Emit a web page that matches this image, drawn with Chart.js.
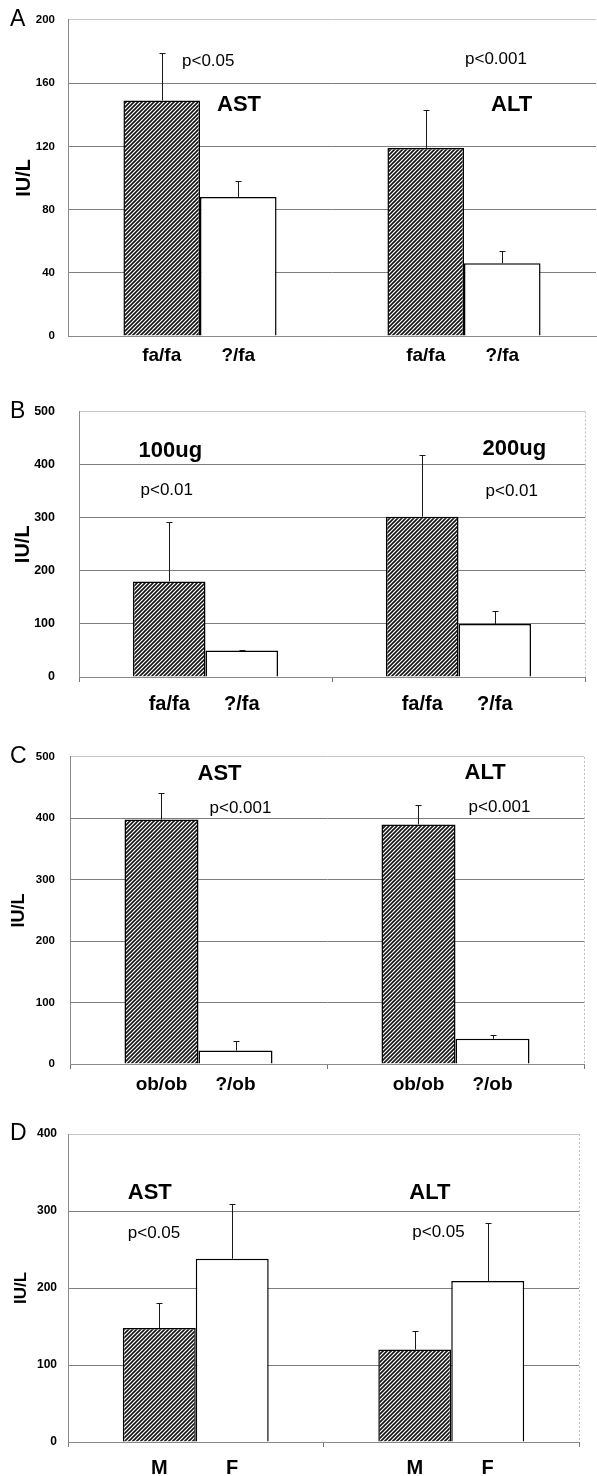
<!DOCTYPE html>
<html>
<head>
<meta charset="utf-8">
<script src="https://cdn.jsdelivr.net/npm/chart.js@4.4.1/dist/chart.umd.min.js"></script>
<style>
  body { margin: 0; background: #fff; }
  #page { position: relative; width: 597px; height: 1476px; overflow: hidden; background: #fff; }
  #page canvas { position: absolute; left: 0; }
</style>
</head>
<body>
<div id="page"></div>
<script>
// ---- data ----
const letters = ['A', 'B', 'C', 'D'];

// A: AST / ALT, fa/fa vs ?/fa
const catsA = ['AST', 'ALT'];
const barNamesA = ['fa/fa', '?/fa'];
const obeseA = [149, 119];
const obeseSdA = [30, 24];
const leanA = [88, 46];
const leanSdA = [10, 8];
const yTicksA = [0, 40, 80, 120, 160, 200];

// B: 100ug / 200ug
const catsB = ['100ug', '200ug'];
const barNamesB = ['fa/fa', '?/fa'];
const obeseB = [180, 302];
const obeseSdB = [111, 116];
const leanB = [50, 100];
const leanSdB = [1, 25];
const yTicksB = [0, 100, 200, 300, 400, 500];

// C: AST / ALT, ob/ob vs ?/ob
const catsC = ['AST', 'ALT'];
const barNamesC = ['ob/ob', '?/ob'];
const obeseC = [398, 390];
const obeseSdC = [44, 31];
const leanC = [22, 41];
const leanSdC = [16, 6];
const yTicksC = [0, 100, 200, 300, 400, 500];

// D: AST / ALT, male vs female
const catsD = ['AST', 'ALT'];
const barNamesD = ['M', 'F'];
const maleD = [148, 120];
const maleSdD = [32, 24];
const femaleD = [238, 209];
const femaleSdD = [71, 76];
const yTicksD = [0, 100, 200, 300, 400];

// in-plot notes: [text, category, px offset from category centre, y value, bold]
const notesA = [['p<0.05', 0, -18, 174, false], ['AST', 0, 17, 146, true],
                ['p<0.001', 1, 1, 175, false], ['ALT', 1, 27, 146, true]];
const notesB = [['100ug', 0, -67, 426, true], ['p<0.01', 0, -65, 351, false],
                ['200ug', 1, 24, 430, true], ['p<0.01', 1, 27, 349, false]];
const notesC = [['AST', 0, -1, 472, true], ['p<0.001', 0, 11, 417, false],
                ['ALT', 1, 9, 474, true], ['p<0.001', 1, 13, 418, false]];
const notesD = [['AST', 0, -68, 323, true], ['p<0.05', 0, -68, 271, false],
                ['ALT', 1, -42, 323, true], ['p<0.05', 1, -39, 272, false]];

const FONT = "'Liberation Sans', Arial, Helvetica, sans-serif";

function hatch() {
  const c = document.createElement('canvas');
  c.width = 4; c.height = 4;
  const g = c.getContext('2d');
  g.fillStyle = '#fff';
  g.fillRect(0, 0, 4, 4);
  g.strokeStyle = '#151515';
  g.lineWidth = 1.6;
  g.beginPath();
  g.moveTo(0, 4); g.lineTo(4, 0);
  g.moveTo(-1, 1); g.lineTo(1, -1);
  g.moveTo(3, 5); g.lineTo(5, 3);
  g.stroke();
  return g.createPattern(c, 'repeat');
}

// error bars, bar names under the bars, notes, panel letter, right frame
const extras = {
  id: 'extras',
  afterDatasetsDraw(chart, args, o) {
    const ctx = chart.ctx;
    const y = chart.scales.y;
    const a = chart.chartArea;
    ctx.save();
    if (o.frameRight) {
      ctx.strokeStyle = '#bdbdbd';
      ctx.lineWidth = 1;
      ctx.setLineDash([2, 2]);
      ctx.beginPath();
      ctx.moveTo(a.right + 0.5, a.top);
      ctx.lineTo(a.right + 0.5, a.bottom);
      ctx.stroke();
      ctx.setLineDash([]);
    }
    chart.data.datasets.forEach((ds, di) => {
      const meta = chart.getDatasetMeta(di);
      meta.data.forEach((bar, i) => {
        const y0 = y.getPixelForValue(ds.data[i]);
        const y1 = Math.round(y.getPixelForValue(ds.data[i] + ds.sd[i])) + 0.5;
        const bx = Math.round(bar.x) + 0.5;
        ctx.strokeStyle = '#1a1a1a';
        ctx.lineWidth = 1;
        ctx.beginPath();
        ctx.moveTo(bx, y0);
        ctx.lineTo(bx, y1);
        ctx.moveTo(bx - 3, y1);
        ctx.lineTo(bx + 3, y1);
        ctx.stroke();
        ctx.fillStyle = '#000';
        ctx.font = 'bold ' + o.nameSize + 'px ' + FONT;
        ctx.textAlign = 'center';
        ctx.textBaseline = 'middle';
        ctx.fillText(ds.barName, bar.x, a.bottom + o.nameGap);
      });
    });
    const step = (a.right - a.left) / chart.data.labels.length;
    o.notes.forEach(([t, c, dx, v, bold]) => {
      ctx.font = (bold ? 'bold 22px ' : '17px ') + FONT;
      ctx.textAlign = 'left';
      ctx.textBaseline = 'middle';
      ctx.fillStyle = '#000';
      ctx.fillText(t, a.left + (c + 0.5) * step + dx, y.getPixelForValue(v));
    });
    ctx.font = '23px ' + FONT;
    ctx.textAlign = 'left';
    ctx.textBaseline = 'middle';
    ctx.fillText(o.letter, 10, a.top);
    ctx.restore();
  }
};

function panel(p) {
  const cv = document.createElement('canvas');
  cv.width = 597;
  cv.height = p.height;
  cv.style.top = p.top + 'px';
  document.getElementById('page').appendChild(cv);
  const yMax = p.ticks[p.ticks.length - 1];
  const common = { borderColor: '#000', borderWidth: 1.5, barPercentage: 1, categoryPercentage: p.catPct };
  new Chart(cv, {
    type: 'bar',
    data: {
      labels: p.cats,
      datasets: [
        Object.assign({ data: p.dark, sd: p.darkSd, barName: p.names[0], backgroundColor: hatch() }, common),
        Object.assign({ data: p.light, sd: p.lightSd, barName: p.names[1], backgroundColor: '#fff' }, common)
      ]
    },
    options: {
      responsive: false,
      animation: false,
      devicePixelRatio: 1,
      layout: { padding: { top: p.areaTop - p.top, right: 597 - p.right, left: 0, bottom: 0 } },
      plugins: {
        legend: { display: false },
        tooltip: { enabled: false },
        extras: { notes: p.notes, letter: p.letter, frameRight: p.frameRight, nameSize: p.nameSize, nameGap: p.nameGap }
      },
      scales: {
        x: {
          grid: { display: p.frameRight, drawOnChartArea: false, tickLength: 5, color: '#777' },
          ticks: { display: false },
          border: { color: '#8a8a8a', width: 1 },
          afterFit: s => { s.height = p.top + p.height - p.areaBottom; }
        },
        y: {
          min: 0,
          max: yMax,
          afterBuildTicks: s => { s.ticks = p.ticks.map(v => ({ value: v })); },
          ticks: { color: '#000', font: { family: FONT, size: p.tickSize, weight: 'bold' }, padding: p.tickPad },
          grid: { drawTicks: false, color: c => c.tick && c.tick.value === yMax ? '#c6c6c6' : '#7e7e7e' },
          border: { color: '#8a8a8a', width: 1 },
          title: { display: true, text: 'IU/L', color: '#000', font: { family: FONT, size: p.titleSize, weight: 'bold' }, padding: { top: p.titlePad, bottom: 0 } },
          afterFit: s => { s.width = p.left; }
        }
      }
    },
    plugins: [extras]
  });
}

panel({ letter: letters[0], cats: catsA, names: barNamesA, dark: obeseA, darkSd: obeseSdA, light: leanA, lightSd: leanSdA,
  ticks: yTicksA, notes: notesA, top: 0, height: 380, left: 68, right: 596, areaTop: 19, areaBottom: 336,
  tickSize: 11.5, tickPad: 13, titleSize: 20, titlePad: 12, nameSize: 19, nameGap: 20, catPct: 0.58, frameRight: false });
panel({ letter: letters[1], cats: catsB, names: barNamesB, dark: obeseB, darkSd: obeseSdB, light: leanB, lightSd: leanSdB,
  ticks: yTicksB, notes: notesB, top: 380, height: 355, left: 79, right: 585, areaTop: 409, areaBottom: 677,
  tickSize: 12.5, tickPad: 24, titleSize: 20, titlePad: 11, nameSize: 20, nameGap: 27, catPct: 0.573, frameRight: true });
panel({ letter: letters[2], cats: catsC, names: barNamesC, dark: obeseC, darkSd: obeseSdC, light: leanC, lightSd: leanSdC,
  ticks: yTicksC, notes: notesC, top: 735, height: 375, left: 70, right: 584, areaTop: 756, areaBottom: 1064,
  tickSize: 11.5, tickPad: 15, titleSize: 18, titlePad: 8, nameSize: 19, nameGap: 21, catPct: 0.576, frameRight: true });
panel({ letter: letters[3], cats: catsD, names: barNamesD, dark: maleD, darkSd: maleSdD, light: femaleD, lightSd: femaleSdD,
  ticks: yTicksD, notes: notesD, top: 1110, height: 366, left: 68, right: 579, areaTop: 1134, areaBottom: 1442,
  tickSize: 12, tickPad: 11, titleSize: 17, titlePad: 11, nameSize: 20, nameGap: 26, catPct: 0.571, frameRight: true });
</script>
</body>
</html>
